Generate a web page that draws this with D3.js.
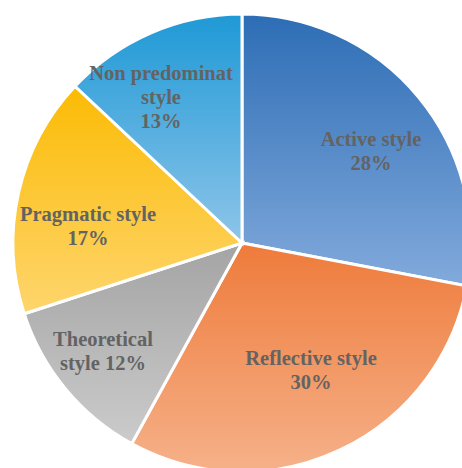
<!DOCTYPE html>
<html>
<head>
<meta charset="utf-8">
<script src="https://cdn.jsdelivr.net/npm/d3@7"></script>
<style>
	html, body { margin: 0; padding: 0; background: #fff; }
	svg { display: block; }
	.lbl { font-family: "Liberation Serif", "Times New Roman", serif; font-weight: bold; font-size: 20.5px; fill: #636363; }
</style>
</head>
<body>
<svg id="chart" width="462" height="468"></svg>
<script>
// data, clockwise from 12 o'clock
var styles = ['Active style', 'Reflective style', 'Theoretical style', 'Pragmatic style', 'Non predominat style'];
var shares = [28, 30, 12, 17, 13];
var labelLines = [
	['Active style', '28%'],
	['Reflective style', '30%'],
	['Theoretical', 'style 12%'],
	['Pragmatic style', '17%'],
	['Non predominat', 'style', '13%']
];

// gradient colours per slice (top, bottom)
var topColors = ['#2d6db5', '#ee7b3b', '#a4a4a4', '#fbbb04', '#1e99d6'];
var bottomColors = ['#82aadc', '#f6b189', '#cbcbcb', '#fed56d', '#8ec5e9'];

// where the first text line sits, relative to the pie centre
var labelAnchors = [[129, -97], [69, 122], [-139, 103], [-154, -22], [-81, -163]];

var cx = 242, cy = 243, radius = 229;

var svg = d3.select('#chart');
var defs = svg.append('defs');

styles.forEach(function(s, i) {
	var g = defs.append('linearGradient')
		.attr('id', 'grad' + i)
		.attr('x1', 0).attr('y1', 0)
		.attr('x2', 0).attr('y2', 1);
	g.append('stop').attr('offset', '0%').attr('stop-color', topColors[i]);
	g.append('stop').attr('offset', '100%').attr('stop-color', bottomColors[i]);
});

var pie = d3.pie().sort(null).value(function(d) { return d; });
var arc = d3.arc().innerRadius(0).outerRadius(radius);

var group = svg.append('g')
	.attr('transform', 'translate(' + cx + ',' + cy + ')');

group.selectAll('path')
	.data(pie(shares))
	.enter()
		.append('path')
			.attr('d', arc)
			.attr('fill', function(d, i) { return 'url(#grad' + i + ')'; })
			.attr('stroke', '#fff')
			.attr('stroke-width', 3)
			.attr('stroke-linejoin', 'miter');

var labels = group.selectAll('text')
	.data(labelLines)
	.enter()
		.append('text')
			.attr('class', 'lbl')
			.attr('text-anchor', 'middle')
			.attr('x', function(d, i) { return labelAnchors[i][0]; })
			.attr('y', function(d, i) { return labelAnchors[i][1]; });

labels.each(function(lines, i) {
	var t = d3.select(this);
	lines.forEach(function(line, j) {
		t.append('tspan')
			.attr('x', labelAnchors[i][0])
			.attr('dy', j === 0 ? 0 : 24)
			.text(line);
	});
});
</script>
</body>
</html>
